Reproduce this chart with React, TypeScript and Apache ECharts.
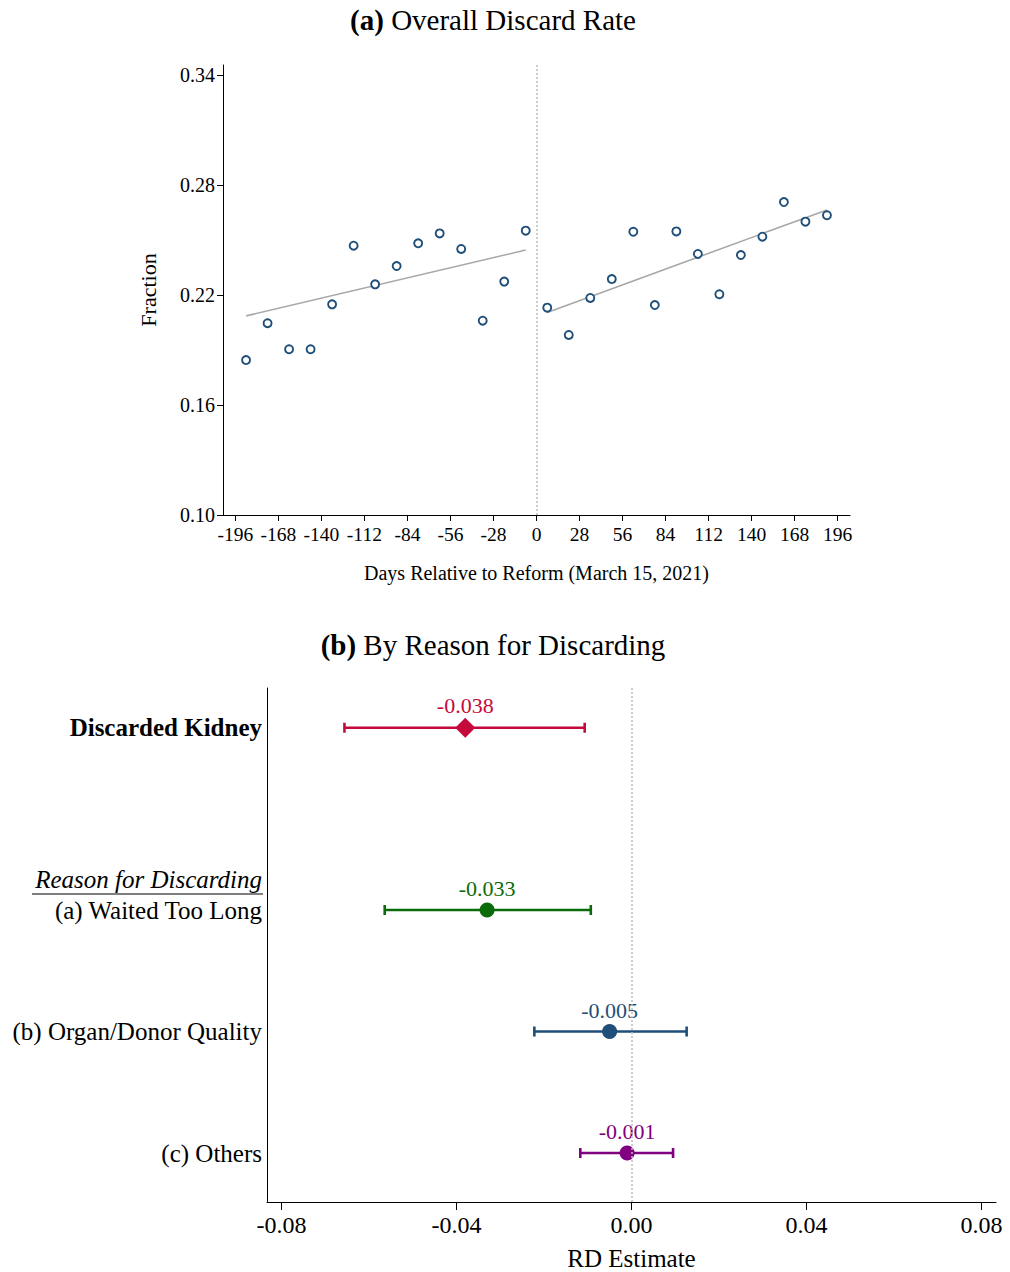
import React, { useEffect, useRef } from 'react';
import * as echarts from 'echarts';

// ---------- Panel (a) data ----------
const leftDays = [-189, -175, -161, -147, -133, -119, -105, -91, -77, -63, -49, -35, -21, -7];
const leftRates = [0.1845, 0.2046, 0.1904, 0.1904, 0.2149, 0.2469, 0.2258, 0.2358, 0.2482, 0.2536, 0.2451, 0.2060, 0.2273, 0.2551];
const rightDays = [7, 21, 35, 49, 63, 77, 91, 105, 119, 133, 147, 161, 175, 189];
const rightRates = [0.2131, 0.1982, 0.2184, 0.2287, 0.2545, 0.2145, 0.2547, 0.2424, 0.2204, 0.2418, 0.2518, 0.2707, 0.2600, 0.2635];
const leftFit = [[-189, 0.2086], [-7, 0.2445]];
const rightFit = [[7, 0.2105], [189, 0.2664]];
const xTicksA = [-196, -168, -140, -112, -84, -56, -28, 0, 28, 56, 84, 112, 140, 168, 196];
const yTicksA = [0.10, 0.16, 0.22, 0.28, 0.34];

// ---------- Panel (b) data ----------
const categories = ['Discarded Kidney', '(a) Waited Too Long', '(b) Organ/Donor Quality', '(c) Others'];
const catPos = [4.5, 3, 2, 1];
const headerLabel = 'Reason for Discarding';
const headerPos = 3.25;
const estimates = [-0.038, -0.033, -0.005, -0.001];
const ciLow = [-0.0656, -0.0564, -0.0222, -0.0117];
const ciHigh = [-0.0107, -0.0093, 0.0126, 0.0095];
const xTicksB = [-0.08, -0.04, 0, 0.04, 0.08];

const colorsB = ['#c6093b', '#0b6b0b', '#1f4e79', '#800080'];
const navy = '#1f4e79';
const FONT = '"Liberation Serif", "Times New Roman", serif';

export default function App() {
  const ref = useRef<HTMLDivElement>(null);

  useEffect(() => {
    document.body.style.margin = '0';
    const chart = echarts.init(ref.current as HTMLDivElement, null, { renderer: 'svg' });

    const axisLineStyle = { color: '#000', width: 1 };

    const option: any = {
      animation: false,
      backgroundColor: '#fff',
      textStyle: { fontFamily: FONT },
      graphic: [
        {
          type: 'text',
          x: 493,
          y: 20,
          style: {
            text: '{b|(a)} Overall Discard Rate',
            align: 'center',
            verticalAlign: 'middle',
            font: `29px ${FONT}`,
            fill: '#000',
            rich: {
              b: { fontWeight: 'bold', fontSize: 29, fontFamily: FONT, fill: '#000' },
            },
          },
        },
        {
          type: 'text',
          x: 493,
          y: 645,
          style: {
            text: '{b|(b)} By Reason for Discarding',
            align: 'center',
            verticalAlign: 'middle',
            font: `29px ${FONT}`,
            fill: '#000',
            rich: {
              b: { fontWeight: 'bold', fontSize: 29, fontFamily: FONT, fill: '#000' },
            },
          },
        },
        {
          type: 'line',
          shape: { x1: 32, y1: 894, x2: 263, y2: 894 },
          style: { stroke: '#000', lineWidth: 1.2 },
        },
      ],
      grid: [
        { left: 223, right: 160, top: 65, bottom: 757, containLabel: false, outerBoundsMode: 'none' },
        { left: 267, right: 14, top: 688, bottom: 70, containLabel: false, outerBoundsMode: 'none' },
      ],
      xAxis: [
        {
          gridIndex: 0,
          type: 'value',
          min: -204,
          max: 204,
          axisLine: { show: true, onZero: false, lineStyle: axisLineStyle },
          axisTick: { show: true, length: 6, customValues: xTicksA, lineStyle: axisLineStyle },
          axisLabel: { customValues: xTicksA, fontSize: 19.5, color: '#000', margin: 9, fontFamily: FONT },
          splitLine: { show: false },
          name: 'Days Relative to Reform (March 15, 2021)',
          nameLocation: 'middle',
          nameGap: 48,
          nameTextStyle: { fontSize: 20, color: '#000', fontFamily: FONT },
        },
        {
          gridIndex: 1,
          type: 'value',
          min: -0.0833,
          max: 0.0833,
          axisLine: { show: true, onZero: false, lineStyle: axisLineStyle },
          axisTick: { show: true, length: 8, customValues: xTicksB, lineStyle: axisLineStyle },
          axisLabel: {
            customValues: xTicksB,
            fontSize: 24,
            color: '#000',
            margin: 11,
            fontFamily: FONT,
            formatter: (v: number) => v.toFixed(2),
          },
          splitLine: { show: false },
          name: 'RD Estimate',
          nameLocation: 'middle',
          nameGap: 44,
          nameTextStyle: { fontSize: 25, color: '#000', fontFamily: FONT },
        },
      ],
      yAxis: [
        {
          gridIndex: 0,
          type: 'value',
          min: 0.1,
          max: 0.34545,
          axisLine: { show: true, onZero: false, lineStyle: axisLineStyle },
          axisTick: { show: true, length: 6, customValues: yTicksA, lineStyle: axisLineStyle },
          axisLabel: {
            customValues: yTicksA,
            fontSize: 20,
            color: '#000',
            margin: 8,
            fontFamily: FONT,
            formatter: (v: number) => v.toFixed(2),
          },
          splitLine: { show: false },
          name: 'Fraction',
          nameLocation: 'middle',
          nameGap: 64,
          nameRotate: 90,
          nameTextStyle: { fontSize: 22, color: '#000', fontFamily: FONT },
        },
        {
          gridIndex: 1,
          type: 'value',
          min: 0.597,
          max: 4.827,
          axisLine: { show: true, onZero: false, lineStyle: axisLineStyle },
          axisTick: { show: false },
          axisLabel: {
            customValues: [...catPos, headerPos],
            margin: 5,
            color: '#000',
            fontFamily: FONT,
            fontSize: 25,
            formatter: (v: number) => {
              if (Math.abs(v - headerPos) < 1e-6) return `{i|${headerLabel}}`;
              const idx = catPos.findIndex((p) => Math.abs(p - v) < 1e-6);
              if (idx < 0) return '';
              return idx === 0 ? `{b|${categories[idx]}}` : `{n|${categories[idx]}}`;
            },
            rich: {
              b: { fontWeight: 'bold', fontSize: 25, fontFamily: FONT, color: '#000' },
              n: { fontSize: 25, fontFamily: FONT, color: '#000' },
              i: { fontStyle: 'italic', fontSize: 25, fontFamily: FONT, color: '#000' },
            },
          },
          splitLine: { show: false },
        },
      ],
      series: [
        {
          type: 'line',
          xAxisIndex: 0,
          yAxisIndex: 0,
          data: leftFit,
          showSymbol: false,
          symbol: 'none',
          lineStyle: { color: '#a8a8a8', width: 1.6 },
          z: 2,
          silent: true,
        },
        {
          type: 'line',
          xAxisIndex: 0,
          yAxisIndex: 0,
          data: rightFit,
          showSymbol: false,
          symbol: 'none',
          lineStyle: { color: '#a8a8a8', width: 1.6 },
          z: 2,
          silent: true,
        },
        {
          type: 'scatter',
          xAxisIndex: 0,
          yAxisIndex: 0,
          data: leftDays.map((d, i) => [d, leftRates[i]]),
          symbol: 'circle',
          symbolSize: 8,
          itemStyle: { color: '#fff', borderColor: navy, borderWidth: 1.9, opacity: 1 },
          z: 3,
          markLine: {
            silent: true,
            symbol: ['none', 'none'],
            label: { show: false },
            lineStyle: { color: '#bdbdbd', type: [2, 2], width: 1.5 },
            data: [{ xAxis: 0 }],
          },
        },
        {
          type: 'scatter',
          xAxisIndex: 0,
          yAxisIndex: 0,
          data: rightDays.map((d, i) => [d, rightRates[i]]),
          symbol: 'circle',
          symbolSize: 8,
          itemStyle: { color: '#fff', borderColor: navy, borderWidth: 1.9, opacity: 1 },
          z: 3,
        },
        {
          type: 'custom',
          xAxisIndex: 1,
          yAxisIndex: 1,
          data: catPos.map((p, i) => [ciLow[i], ciHigh[i], p, i]),
          encode: { x: [0, 1], y: 2 },
          z: 3,
          renderItem: (params: any, api: any) => {
            const lo = api.value(0);
            const hi = api.value(1);
            const y = api.value(2);
            const idx = api.value(3);
            const p1 = api.coord([lo, y]);
            const p2 = api.coord([hi, y]);
            const style = { stroke: colorsB[idx], lineWidth: 2.6, opacity: 1 };
            return {
              type: 'group',
              children: [
                { type: 'line', shape: { x1: p1[0], y1: p1[1], x2: p2[0], y2: p2[1] }, style },
                { type: 'line', shape: { x1: p1[0], y1: p1[1] - 5, x2: p1[0], y2: p1[1] + 5 }, style },
                { type: 'line', shape: { x1: p2[0], y1: p2[1] - 5, x2: p2[0], y2: p2[1] + 5 }, style },
              ],
            };
          },
        },
        {
          type: 'scatter',
          xAxisIndex: 1,
          yAxisIndex: 1,
          z: 4,
          itemStyle: { opacity: 1 },
          data: catPos.map((p, i) => ({
            value: [estimates[i], p],
            symbol: i === 0 ? 'diamond' : 'circle',
            symbolSize: i === 0 ? 20 : 15,
            itemStyle: { color: colorsB[i], opacity: 1 },
            label: {
              show: true,
              position: 'top',
              distance: i === 0 ? 1 : 3,
              color: colorsB[i],
              fontSize: 22,
              fontFamily: FONT,
              formatter: () => estimates[i].toFixed(3),
            },
          })),
          markLine: {
            silent: true,
            symbol: ['none', 'none'],
            label: { show: false },
            lineStyle: { color: '#bdbdbd', type: [2, 2], width: 1.5 },
            data: [{ xAxis: 0 }],
          },
        },
      ],
    };

    chart.setOption(option);
    return () => chart.dispose();
  }, []);

  return <div ref={ref} style={{ width: 1010, height: 1272 }} />;
}
